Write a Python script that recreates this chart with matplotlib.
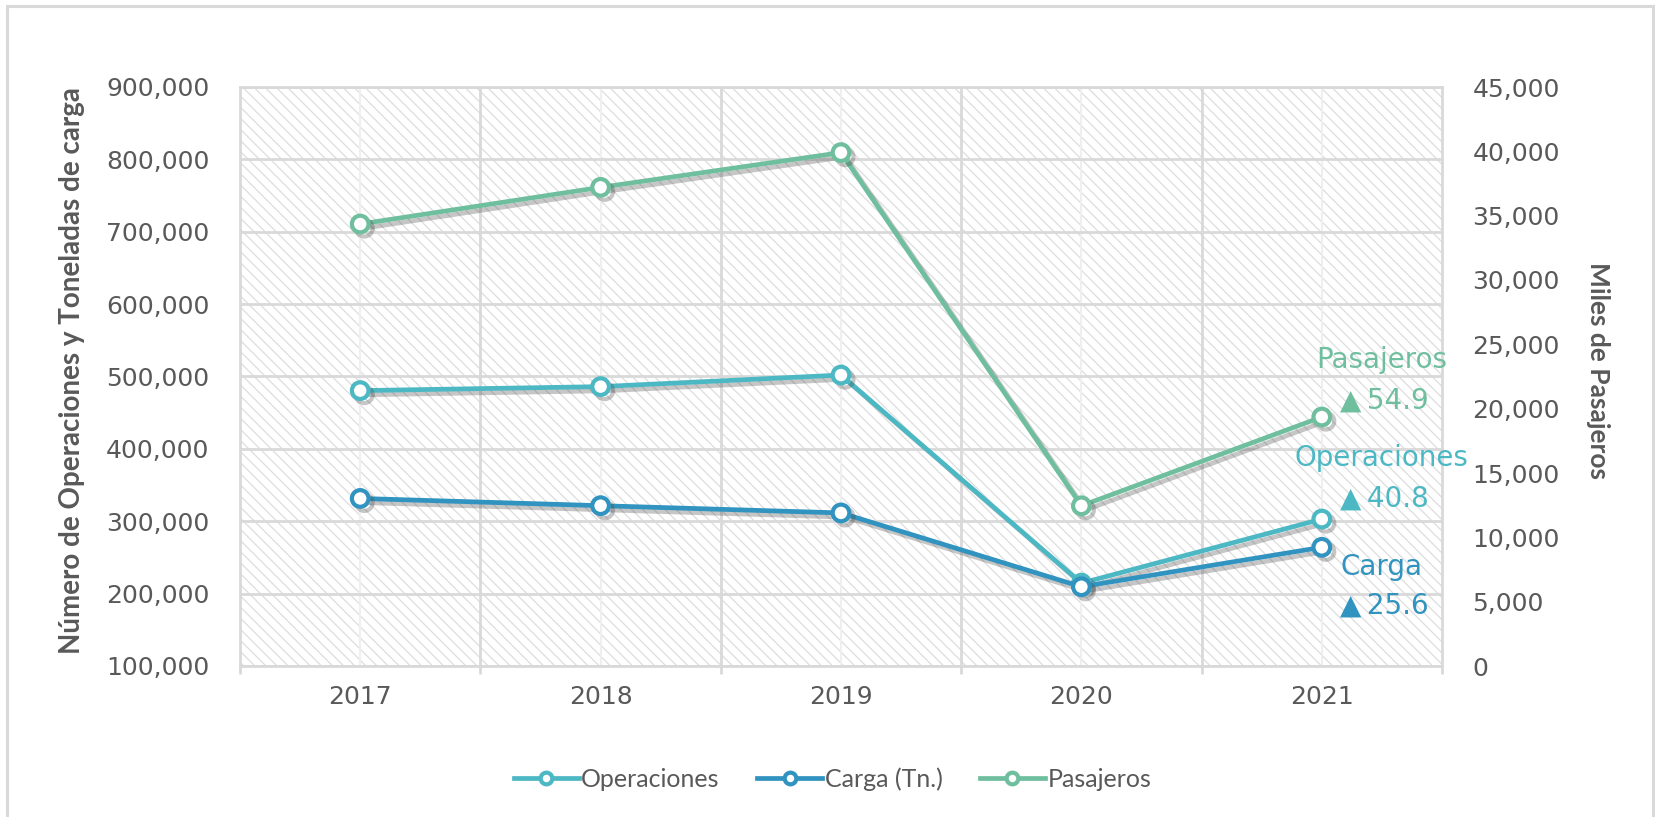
import matplotlib
matplotlib.use("Agg")
import matplotlib.pyplot as plt
import matplotlib.patheffects as pe
from matplotlib.patches import Rectangle
from matplotlib.ticker import FuncFormatter, FixedLocator

# ---- data ----
years = ['2017', '2018', '2019', '2020', '2021']
operaciones = [480500, 486000, 502000, 214500, 303000]
carga = [331500, 321500, 311500, 209500, 264000]
pasajeros = [34350, 37200, 39900, 12450, 19350]

series_names = ['Operaciones', 'Carga (Tn.)', 'Pasajeros']
growth_names = ['Pasajeros', 'Operaciones', 'Carga']
growth_pct = [54.9, 40.8, 25.6]

left_ticks = [100000, 200000, 300000, 400000, 500000, 600000, 700000, 800000, 900000]
right_ticks = [0, 5000, 10000, 15000, 20000, 25000, 30000, 35000, 40000, 45000]

# ---- style ----
C_OPS = '#4bb8c4'
C_CARGA = '#3193bf'
C_PAS = '#6fbf9f'
TXT = '#595959'
GRID = '#d9d9d9'

plt.rcParams['hatch.linewidth'] = 0.9

fig = plt.figure(figsize=(16.55, 8.17), dpi=100)
fig.patch.set_facecolor('white')
# outer frame
fig.patches.append(Rectangle((7 / 1655, -0.05), (1653 - 7) / 1655, 1.05 - 6 / 817,
                             transform=fig.transFigure, fill=False,
                             edgecolor=GRID, linewidth=2.2, zorder=0))

ax = fig.add_axes([240 / 1655, 1 - 666 / 817, (1442 - 240) / 1655, (666 - 87) / 817])
ax.set_facecolor('white')
ax.set_axisbelow(True)

# hatched background
bg = Rectangle((0, 0), 1, 1, transform=ax.transAxes, facecolor='white',
               edgecolor='#dddddd', hatch='\\\\\\', linewidth=0, zorder=0.1)
ax.add_patch(bg)

x = list(range(len(years)))
ax.set_xlim(-0.5, len(years) - 0.5)
ax.set_ylim(left_ticks[0], left_ticks[-1])

# grid
ax.yaxis.set_major_locator(FixedLocator(left_ticks))
ax.yaxis.set_major_formatter(FuncFormatter(lambda v, p: f'{v:,.0f}'))
ax.grid(axis='y', color=GRID, linewidth=2, zorder=0.5)
for b in [i + 0.5 for i in x[:-1]]:
    ax.axvline(b, color=GRID, linewidth=2, zorder=0.5)
for c in x:
    ax.axvline(c, color='#efefef', linewidth=1.5, zorder=0.5)

for s in ax.spines.values():
    s.set_color(GRID)
    s.set_linewidth(2)

ax.set_xticks(x)
ax.set_xticklabels(years)
ax.set_xticks([i - 0.5 for i in range(len(years) + 1)], minor=True)
ax.tick_params(axis='x', which='major', length=0, pad=14, labelsize=18, labelcolor=TXT)
ax.tick_params(axis='x', which='minor', length=6, width=2, color=GRID)
ax.tick_params(axis='y', length=0, pad=22, labelsize=18, labelcolor=TXT)

shadow = [pe.SimpleLineShadow(offset=(3, -3), shadow_color='#444444', alpha=0.3), pe.Normal()]
lkw = dict(linewidth=3.4, marker='o', markersize=12, markeredgewidth=3,
           markerfacecolor='white', zorder=3, path_effects=shadow)

l1, = ax.plot(x, operaciones, color=C_OPS, label=series_names[0], **lkw)
l2, = ax.plot(x, carga, color=C_CARGA, label=series_names[1], **lkw)

ax2 = ax.twinx()
ax2.set_ylim(right_ticks[0], right_ticks[-1])
ax2.yaxis.set_major_locator(FixedLocator(right_ticks))
ax2.yaxis.set_major_formatter(FuncFormatter(lambda v, p: f'{v:,.0f}'))
ax2.tick_params(axis='y', length=0, pad=22, labelsize=18, labelcolor=TXT)
for s in ax2.spines.values():
    s.set_visible(False)
l3, = ax2.plot(x, pasajeros, color=C_PAS, label=series_names[2], **lkw)

# axis titles
ax.set_ylabel('Número de Operaciones y Toneladas de carga', fontsize=20,
              fontweight='bold', color=TXT, family='Lato', va='center')
ax.yaxis.set_label_coords(-0.1398, 0.51)
ax2.set_ylabel('Miles de Pasajeros', fontsize=19, fontweight='bold', color=TXT,
               family='Lato', rotation=270, va='center')
ax2.yaxis.set_label_coords(1.1298, 0.51)

# growth annotations (positions in left-axis units)
ann_cols = [C_PAS, C_OPS, C_CARGA]
ann_y = [(523000, 467000), (387000, 332000), (237000, 184000)]
for name, pct, col, (yl, yv) in zip(growth_names, growth_pct, ann_cols, ann_y):
    ax.text(4.25, yl, name, color=col, fontsize=20, ha='center', va='center',
            zorder=6, clip_on=False)
    ax.text(4.26, yv, f'▲\u2009{pct:.1f}', color=col, fontsize=20, ha='center',
            va='center', zorder=6, clip_on=False)

# legend
leg = fig.legend(handles=[l1, l2, l3], loc='center', bbox_to_anchor=(0.503, 0.046),
                 ncol=3, frameon=False, handlelength=2.6, handletextpad=0.1,
                 columnspacing=1.5, markerscale=0.7, prop={'family': 'Lato', 'size': 18})
for t in leg.get_texts():
    t.set_color(TXT)
for h in leg.legend_handles:
    h.set_path_effects([])

fig.savefig('out.png', dpi=100, facecolor='white')
